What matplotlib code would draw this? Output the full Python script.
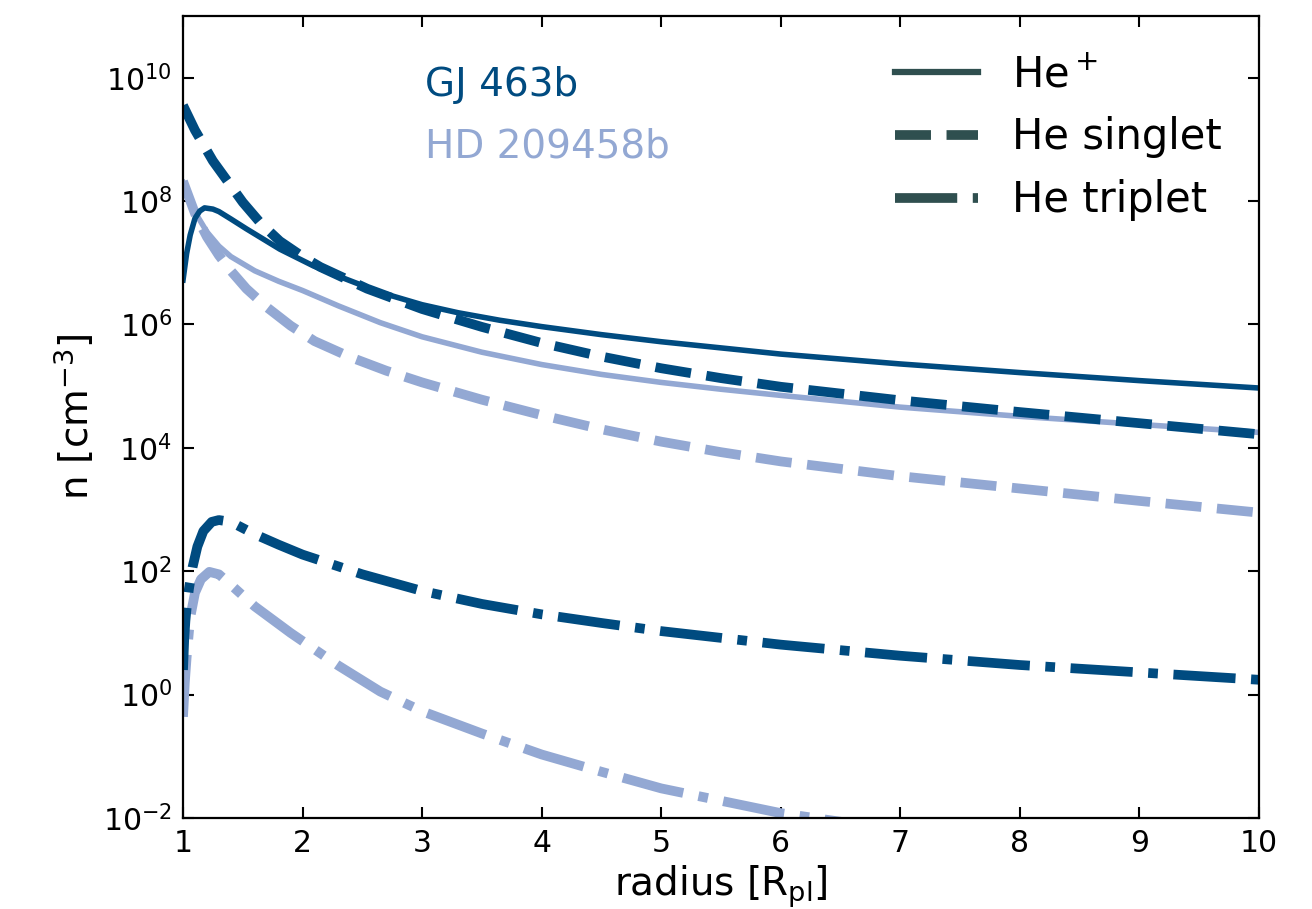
import numpy as np
import matplotlib
matplotlib.use("Agg")
import matplotlib.pyplot as plt
from matplotlib.lines import Line2D

# GJ 463b (dark blue)
gj_hep_r = [1.0, 1.03, 1.06, 1.1, 1.14, 1.18, 1.25, 1.3, 1.4, 1.53, 1.81, 2.09, 2.37, 2.65,
            3.0, 3.3, 3.65, 4.0, 4.5, 5.0, 5.5, 6.0, 7.0, 8.0, 9.0, 10.0]
gj_hep_n = [5.25e6, 1.41e7, 2.82e7, 5.25e7, 6.9e7, 7.76e7, 7.41e7, 6.76e7, 5.13e7, 3.55e7,
            1.66e7, 8.91e6, 5.37e6, 3.31e6, 2.09e6, 1.55e6, 1.17e6, 9.23e5, 6.84e5, 5.25e5,
            4.17e5, 3.31e5, 2.29e5, 1.66e5, 1.23e5, 9.33e4]

gj_sing_r = [1.0, 1.1, 1.25, 1.5, 1.65, 1.81, 2.0, 2.15, 2.54, 3.0, 3.5, 4.0, 4.5, 5.0, 5.5,
             6.0, 7.0, 8.0, 9.0, 10.0]
gj_sing_n = [3.55e9, 1.41e9, 4.47e8, 9.55e7, 4.37e7, 2.24e7, 1.26e7, 8.51e6, 3.8e6, 1.78e6,
             9.12e5, 5.01e5, 3.02e5, 1.95e5, 1.35e5, 9.77e4, 5.89e4, 3.8e4, 2.51e4, 1.66e4]

gj_trip_r = [1.0, 1.01, 1.02, 1.035, 1.05, 1.08, 1.12, 1.17, 1.24, 1.3, 1.4, 1.6, 1.8, 2.0,
             2.5, 3.0, 3.5, 4.0, 4.5, 5.0, 6.0, 7.0, 8.0, 9.0, 10.0]
gj_trip_n = [2.51, 7.94, 15.8, 31.6, 52.5, 117, 251, 447, 631, 676, 631, 398, 269, 186,
             89.1, 47.9, 29.5, 20.0, 14.5, 10.7, 6.46, 4.27, 3.02, 2.29, 1.74]

# HD 209458b (light blue)
hd_hep_r = [1.0, 1.05, 1.1, 1.2, 1.3, 1.4, 1.6, 1.8, 2.0, 2.3, 2.65, 3.0, 3.5, 4.0, 4.5,
            5.0, 5.5, 6.0, 7.0, 8.0, 9.0, 10.0]
hd_hep_n = [2.0e8, 1.12e8, 6.61e7, 3.16e7, 1.86e7, 1.26e7, 7.41e6, 5.01e6, 3.55e6, 2.0e6,
            1.07e6, 6.31e5, 3.55e5, 2.24e5, 1.55e5, 1.15e5, 8.91e4, 7.08e4, 4.57e4, 3.24e4,
            2.4e4, 1.78e4]

hd_sing_r = [1.0, 1.1, 1.2, 1.3, 1.4, 1.53, 1.7, 1.9, 2.1, 2.4, 2.7, 3.0, 3.5, 4.0, 4.5,
             5.0, 5.5, 6.0, 7.0, 8.0, 9.0, 10.0]
hd_sing_n = [2.09e8, 6.31e7, 2.63e7, 1.32e7, 7.41e6, 3.8e6, 1.91e6, 9.55e5, 5.37e5, 2.95e5,
             1.78e5, 1.15e5, 6.03e4, 3.39e4, 2.0e4, 1.26e4, 8.51e3, 6.03e3, 3.47e3, 2.19e3,
             1.38e3, 8.91e2]

hd_trip_r = [1.0, 1.015, 1.03, 1.06, 1.1, 1.15, 1.22, 1.3, 1.4, 1.6, 1.9, 2.3, 2.65, 3.0,
             3.5, 4.0, 4.5, 5.0, 6.0, 7.0, 8.0, 10.0]
hd_trip_n = [0.437, 1.58, 3.98, 17.8, 44.7, 74.1, 97.7, 89.1, 60.3, 26.9, 10.0, 2.95, 1.12,
             0.537, 0.234, 0.107, 0.0562, 0.0302, 0.0120, 0.0063, 0.00316, 0.001]

yticks = [1e-2, 1e0, 1e2, 1e4, 1e6, 1e8, 1e10]
xticks = [1, 2, 3, 4, 5, 6, 7, 8, 9, 10]

c_gj = "#004b80"
c_hd = "#93a8d3"
c_leg = "#2f4f4f"

fig = plt.figure(figsize=(13.12, 9.09), dpi=100)
ax = fig.add_axes([0.1395, 0.1001, 0.8201, 0.8823])

lw_s, lw_d = 4.0, 7.0
ax.plot(hd_sing_r, hd_sing_n, color=c_hd, lw=lw_d, ls="--")
ax.plot(hd_hep_r, hd_hep_n, color=c_hd, lw=lw_s, ls="-")
ax.plot(hd_trip_r, hd_trip_n, color=c_hd, lw=lw_d, ls="-.")
ax.plot(gj_trip_r, gj_trip_n, color=c_gj, lw=lw_d, ls="-.")
ax.plot(gj_sing_r, gj_sing_n, color=c_gj, lw=lw_d, ls="--")
ax.plot(gj_hep_r, gj_hep_n, color=c_gj, lw=lw_s, ls="-")

ax.set_yscale("log")
ax.set_xlim(1, 10)
ax.set_ylim(1e-2, 1e11)
ax.set_xticks(xticks)
ax.set_yticks(yticks)
ax.minorticks_off()
ax.tick_params(direction="in", top=True, right=True, length=8, width=1.5,
               labelsize=21.5, pad=8)
for sp in ax.spines.values():
    sp.set_linewidth(1.6)

ax.set_xlabel(r"radius [R$_{\rm pl}$]", fontsize=28)
ax.set_ylabel(r"n [cm$^{-3}$]", fontsize=28)

ax.text(0.225, 0.900, "GJ 463b", color=c_gj, fontsize=28, transform=ax.transAxes)
ax.text(0.225, 0.823, "HD 209458b", color=c_hd, fontsize=28, transform=ax.transAxes)

handles = [Line2D([], [], color=c_leg, lw=4.5, ls="-"),
           Line2D([], [], color=c_leg, lw=7, ls="--"),
           Line2D([], [], color=c_leg, lw=7, ls="-.")]
ax.legend(handles, [r"He$^+$", "He singlet", "He triplet"], loc="upper right",
          frameon=False, fontsize=30)

fig.savefig("out.png", dpi=100)
